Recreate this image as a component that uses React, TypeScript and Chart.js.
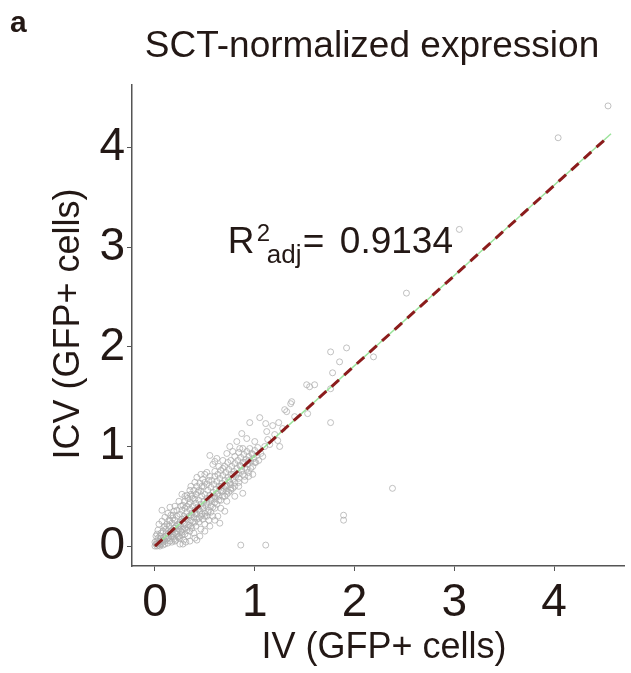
import { useEffect, useRef } from "react";
import { Chart, registerables } from "chart.js";

Chart.register(...registerables);

// ---------- data ----------
const panelLabel = "a";
const chartTitle = "SCT-normalized expression";
const xAxisTitle = "IV (GFP+ cells)";
const yAxisTitle = "ICV (GFP+ cells)";
const r2Text = "0.9134";
const tickValues = [0, 1, 2, 3, 4];

// [IV, ICV] pairs
const nearOriginPoints: [number, number][] = [
  [0, 0], [0.01, 0.02], [0.02, 0], [0.03, 0.03], [0.04, 0.01], [0.05, 0.05], [0.06, 0.02], [0.07, 0.06],
  [0.08, 0.04], [0.09, 0.09], [0.1, 0.05], [0.11, 0.1], [0.12, 0.07], [0.13, 0.12], [0.14, 0.09], [0.15, 0.14],
  [0.16, 0.1], [0.17, 0.16], [0.18, 0.12], [0.19, 0.18], [0.2, 0.13], [0.21, 0.2], [0.22, 0.15], [0.23, 0.22],
  [0.24, 0.17], [0.25, 0.24], [0.02, 0.05], [0.03, 0.08], [0.05, 0.1], [0.06, 0.13], [0.08, 0.15], [0.09, 0.19],
  [0.11, 0.17], [0.12, 0.22], [0.14, 0.2], [0.15, 0.25], [0.17, 0.23], [0.18, 0.28], [0.2, 0.26], [0.22, 0.3],
  [0.05, 0], [0.08, 0.01], [0.1, 0.02], [0.13, 0.03], [0.15, 0.05], [0.17, 0.04], [0.19, 0.07], [0.21, 0.06],
  [0.23, 0.09], [0.25, 0.08], [0.27, 0.11], [0.29, 0.06], [0.31, 0.04], [0.28, 0.02], [0.01, 0.1], [0.03, 0.16],
  [0.04, 0.22], [0.07, 0.25], [0.1, 0.29], [0.13, 0.33], [0.07, 0.36], [0.15, 0.39], [0.16, 0.31], [0.19, 0.35],
  [0, 0.04], [0.02, 0.12],
];

const middlePoints: [number, number][] = [
  [0.26, 0.2], [0.27, 0.27], [0.28, 0.17], [0.29, 0.3], [0.3, 0.22], [0.31, 0.28], [0.32, 0.34], [0.33, 0.19],
  [0.34, 0.3], [0.35, 0.37], [0.36, 0.26], [0.37, 0.33], [0.38, 0.4], [0.39, 0.29], [0.4, 0.36], [0.41, 0.43],
  [0.42, 0.32], [0.43, 0.39], [0.44, 0.46], [0.45, 0.35], [0.46, 0.42], [0.47, 0.5], [0.48, 0.38], [0.49, 0.45],
  [0.5, 0.52], [0.51, 0.41], [0.52, 0.48], [0.53, 0.56], [0.54, 0.44], [0.55, 0.51], [0.56, 0.59], [0.57, 0.47],
  [0.58, 0.54], [0.59, 0.62], [0.6, 0.5], [0.25, 0.32], [0.27, 0.36], [0.28, 0.41], [0.3, 0.45], [0.32, 0.4],
  [0.33, 0.48], [0.35, 0.44], [0.36, 0.52], [0.38, 0.48], [0.39, 0.56], [0.41, 0.52], [0.42, 0.6], [0.44, 0.56],
  [0.45, 0.63], [0.47, 0.6], [0.48, 0.67], [0.5, 0.64], [0.42, 0.69], [0.55, 0.7], [0.52, 0.74], [0.3, 0.12],
  [0.33, 0.1], [0.35, 0.15], [0.37, 0.18], [0.39, 0.13], [0.41, 0.2], [0.42, 0.06], [0.44, 0.24], [0.46, 0.17],
  [0.48, 0.27], [0.5, 0.22], [0.52, 0.3], [0.54, 0.26], [0.56, 0.34], [0.58, 0.3], [0.6, 0.38], [0.32, 0.51],
  [0.24, 0.45], [0.27, 0.52], [0.2, 0.4], [0.36, 0.6],
];

const upperPoints: [number, number][] = [
  [0.61, 0.57], [0.62, 0.65], [0.63, 0.53], [0.64, 0.6], [0.65, 0.68], [0.66, 0.56], [0.67, 0.63], [0.68, 0.71],
  [0.69, 0.58], [0.7, 0.66], [0.71, 0.74], [0.72, 0.61], [0.73, 0.69], [0.74, 0.77], [0.75, 0.64], [0.76, 0.72],
  [0.77, 0.8], [0.78, 0.67], [0.79, 0.75], [0.8, 0.83], [0.81, 0.7], [0.82, 0.78], [0.83, 0.86], [0.84, 0.73],
  [0.85, 0.81], [0.86, 0.89], [0.87, 0.76], [0.88, 0.84], [0.89, 0.92], [0.9, 0.79], [0.91, 0.87], [0.92, 0.95],
  [0.93, 0.82], [0.94, 0.9], [0.95, 0.98], [0.96, 0.85], [0.97, 0.93], [0.98, 0.8], [0.99, 0.88], [1.0, 0.96],
  [1.01, 0.84], [1.02, 0.91], [1.03, 0.99], [0.6, 0.75], [0.64, 0.8], [0.68, 0.86], [0.72, 0.93], [0.75, 1.0],
  [0.55, 0.91], [0.6, 0.85], [0.68, 0.78], [0.78, 0.95], [0.82, 1.05], [0.87, 1.13], [0.95, 1.24], [0.92, 1.08],
  [1.0, 1.05], [0.85, 0.98], [0.62, 0.42], [0.65, 0.23], [0.66, 0.46], [0.7, 0.5], [0.74, 0.54], [0.78, 0.58],
  [0.8, 0.5], [0.88, 0.53], [0.84, 0.64], [0.9, 0.7], [0.94, 0.74], [0.98, 0.72], [1.04, 0.86], [1.06, 0.93],
  [1.08, 0.9], [1.1, 1.0], [0.72, 0.45], [0.76, 0.62],
];

const bandFillPoints: [number, number][] = [
  [0.04, 0.03], [0.06, 0.08], [0.09, 0.06], [0.11, 0.13], [0.13, 0.08], [0.16, 0.15], [0.18, 0.09], [0.2, 0.18],
  [0.22, 0.12], [0.24, 0.21], [0.26, 0.15], [0.28, 0.25], [0.3, 0.18], [0.32, 0.27], [0.34, 0.21], [0.36, 0.31],
  [0.38, 0.24], [0.4, 0.33], [0.42, 0.27], [0.44, 0.37], [0.46, 0.3], [0.48, 0.4], [0.5, 0.33], [0.52, 0.43],
  [0.54, 0.36], [0.56, 0.46], [0.58, 0.39], [0.6, 0.48], [0.62, 0.52], [0.64, 0.46], [0.66, 0.6], [0.68, 0.5],
  [0.7, 0.6], [0.72, 0.55], [0.74, 0.66], [0.76, 0.58], [0.78, 0.72], [0.8, 0.64], [0.82, 0.72], [0.84, 0.68],
  [0.86, 0.8], [0.88, 0.72], [0.9, 0.84], [0.92, 0.77], [0.94, 0.86], [0.96, 0.78], [0.98, 0.92], [1.0, 0.84],
  [0.1, 0.2], [0.14, 0.26], [0.18, 0.31], [0.22, 0.36], [0.26, 0.4], [0.3, 0.38], [0.34, 0.42], [0.37, 0.5],
  [0.4, 0.47], [0.43, 0.54], [0.46, 0.55], [0.49, 0.6], [0.52, 0.62], [0.54, 0.66], [0.57, 0.66], [0.6, 0.7],
  [0.63, 0.72], [0.66, 0.76], [0.7, 0.8], [0.73, 0.84], [0.76, 0.86], [0.8, 0.9], [0.84, 0.94], [0.88, 0.98],
  [0.62, 0.88], [0.58, 0.82], [0.5, 0.72], [0.46, 0.72], [0.4, 0.64], [0.35, 0.56], [0.3, 0.5],
  [0.2, 0.05], [0.24, 0.1], [0.27, 0.14], [0.32, 0.16], [0.36, 0.2], [0.4, 0.24], [0.44, 0.28], [0.47, 0.32],
  [0.5, 0.3], [0.53, 0.34], [0.56, 0.4], [0.6, 0.44], [0.64, 0.5], [0.68, 0.55], [0.72, 0.52], [0.76, 0.56],
  [0.8, 0.6], [0.84, 0.6], [0.9, 0.66], [0.94, 0.7], [0.6, 0.26], [0.55, 0.2], [0.5, 0.15], [0.45, 0.1],
  [0.4, 0.08], [0.7, 0.35], [0.63, 0.3], [0.66, 0.38], [0.35, 0.05], [0.25, 0.02],
];

const highPoints: [number, number][] = [
  [1.05, 1.29], [1.11, 1.23], [1.13, 1.07], [1.15, 1.02], [1.18, 1.21], [1.2, 1.12], [1.23, 1.06], [1.24, 1.24],
  [1.28, 1.18], [1.3, 1.37], [1.32, 1.35], [1.36, 1.43], [1.37, 1.45], [1.4, 1.3], [1.53, 1.33], [1.52, 1.62],
  [1.55, 1.6], [1.6, 1.62], [1.76, 1.24], [1.76, 1.58], [1.78, 1.74], [1.85, 1.85], [1.76, 1.95], [1.92, 1.99],
  [2.19, 1.9], [1.12, 1.15], [1.25, 1.0],
];

const outlierPoints: [number, number][] = [
  [2.52, 2.54], [3.05, 3.18], [4.04, 4.1], [4.54, 4.42], [1.89, 0.31], [1.89, 0.26], [2.38, 0.58],
  [0.86, 0.01], [1.11, 0.01],
];

// fitted regression line (dashed) and guide line (green)
const fitLineIV = [0, 4.54];
const fitLineICV = [0, 4.11];
const guideLineIV = [0, 4.57];
const guideLineICV = [0, 4.14];

// ---------- styles ----------
const INK = "#231815";
const AXIS = "#555555";
const FONT = '"Liberation Sans", Arial, sans-serif';

const allPoints = [
  ...nearOriginPoints,
  ...middlePoints,
  ...upperPoints,
  ...bandFillPoints,
  ...highPoints,
  ...outlierPoints,
];

const textPlugin = {
  id: "textOverlay",
  afterDraw(chart: any) {
    const ctx = chart.ctx as CanvasRenderingContext2D;
    const xs = chart.scales.x;
    const ys = chart.scales.y;
    ctx.save();
    ctx.fillStyle = INK;
    ctx.textBaseline = "alphabetic";

    ctx.font = `bold 30px ${FONT}`;
    ctx.textAlign = "left";
    ctx.fillText(panelLabel, 10, 32);

    ctx.font = `37px ${FONT}`;
    ctx.textAlign = "center";
    ctx.fillText(chartTitle, 372, 57);
    ctx.font = `36px ${FONT}`;
    ctx.fillText(xAxisTitle, 384, 658);

    ctx.save();
    ctx.translate(79, 324);
    ctx.rotate(-Math.PI / 2);
    ctx.fillText(yAxisTitle, 0, 0);
    ctx.restore();

    // R^2_adj = value
    const px = xs.getPixelForValue(0.73);
    const py = ys.getPixelForValue(2.94);
    ctx.textAlign = "left";
    ctx.font = `37px ${FONT}`;
    ctx.fillText("R", px, py);
    ctx.font = `24px ${FONT}`;
    ctx.fillText("2", px + 29, py - 12);
    ctx.font = `26px ${FONT}`;
    ctx.fillText("adj", px + 39, py + 10);
    ctx.font = `37px ${FONT}`;
    ctx.fillText("=", px + 75, py);
    ctx.fillText(r2Text, px + 112, py);
    ctx.restore();
  },
};

export default function App() {
  const canvasRef = useRef<HTMLCanvasElement | null>(null);

  useEffect(() => {
    const canvas = canvasRef.current;
    if (!canvas) return;
    const chart = new Chart(canvas, {
      type: "scatter",
      data: {
        datasets: [
          {
            type: "line",
            label: "fit",
            data: fitLineIV.map((v, i) => ({ x: v, y: fitLineICV[i] })),
            borderColor: "#8b1c1c",
            borderWidth: 3,
            borderDash: [10, 7],
            pointRadius: 0,
            fill: false,
            order: 0,
          } as any,
          {
            type: "line",
            label: "guide",
            data: guideLineIV.map((v, i) => ({ x: v, y: guideLineICV[i] })),
            borderColor: "#9be39b",
            borderWidth: 1.5,
            pointRadius: 0,
            fill: false,
            order: 1,
          } as any,
          {
            label: "cells",
            data: allPoints.map(([a, b]) => ({ x: a, y: b })),
            pointRadius: 3,
            pointStyle: "circle",
            backgroundColor: "rgba(0,0,0,0)",
            borderColor: "rgba(172,172,172,0.75)",
            borderWidth: 1,
            order: 2,
          },
        ],
      },
      options: {
        responsive: false,
        animation: false,
        layout: { padding: { top: 85, right: 7, left: 0, bottom: 0 } },
        plugins: { legend: { display: false }, tooltip: { enabled: false }, title: { display: false } },
        scales: {
          x: {
            type: "linear",
            min: -0.23,
            max: 4.7,
            afterBuildTicks: (s: any) => {
              s.ticks = tickValues.map((v) => ({ value: v }));
            },
            afterFit: (s: any) => {
              s.height = 107;
            },
            grid: { display: true, drawOnChartArea: false, drawTicks: true, tickLength: 5, color: AXIS, lineWidth: 1 },
            border: { display: true, color: AXIS, width: 1.5 },
            ticks: { font: { family: FONT, size: 46 }, color: INK, padding: 5, maxRotation: 0, autoSkip: false },
          },
          y: {
            type: "linear",
            min: -0.2,
            max: 4.63,
            afterBuildTicks: (s: any) => {
              s.ticks = tickValues.map((v) => ({ value: v }));
            },
            afterFit: (s: any) => {
              s.width = 132;
            },
            grid: { display: true, drawOnChartArea: false, drawTicks: true, tickLength: 5, color: AXIS, lineWidth: 1 },
            border: { display: true, color: AXIS, width: 1.5 },
            ticks: { font: { family: FONT, size: 46 }, color: INK, padding: 2, autoSkip: false },
          },
        },
      },
      plugins: [textPlugin],
    });
    return () => chart.destroy();
  }, []);

  return (
    <div style={{ position: "absolute", left: 0, top: 0, width: 631, height: 673, background: "#ffffff" }}>
      <canvas ref={canvasRef} width={631} height={673} style={{ display: "block" }} />
    </div>
  );
}
